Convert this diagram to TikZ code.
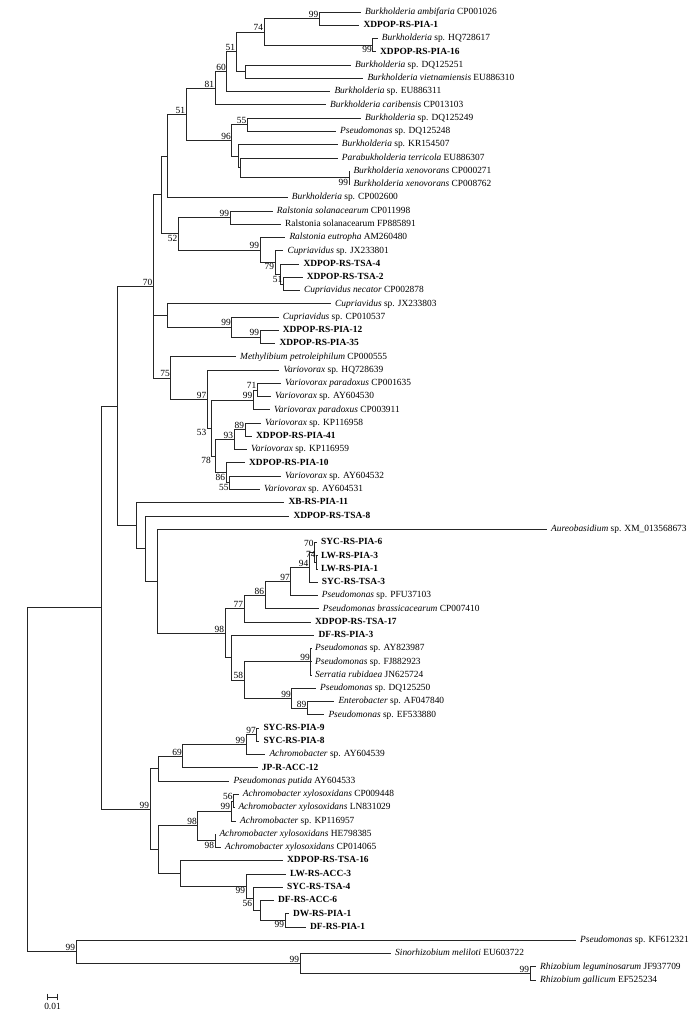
\documentclass[tikz,border=0pt]{standalone}
\usepackage{fontspec}
\setmainfont{Liberation Serif}
\begin{document}
\begin{tikzpicture}[x=1pt,y=-1pt,font=\fontsize{9.4}{11}\selectfont,
    br/.style={line width=0.7pt,black!85},
    leaf/.style={anchor=west,inner xsep=4pt,inner ysep=0pt,text height=6.5pt,text depth=1.9pt},
    strain/.style={leaf,font=\fontsize{9.4}{11}\selectfont\bfseries},
    bsup/.style={anchor=south east,inner sep=0.8pt,text height=6.3pt,text depth=0pt},
    bsdn/.style={anchor=north east,inner sep=0.8pt,text height=6.3pt,text depth=0pt}]
    \useasboundingbox (0,0) rectangle (699,1016);

    \node[leaf] (L1) at (361,12.0) {\textit{Burkholderia ambifaria} CP001026};
    \node[strain] (L2) at (359.3,25.3) {XDPOP-RS-PIA-1};
    \node[leaf] (L3) at (377.7,38.5) {\textit{Burkholderia} sp. HQ728617};
    \node[strain] (L4) at (376,51.8) {XDPOP-RS-PIA-16};
    \node[leaf] (L5) at (351,65.0) {\textit{Burkholderia} sp. DQ125251};
    \node[leaf] (L6) at (363.3,78.3) {\textit{Burkholderia vietnamiensis} EU886310};
    \node[leaf] (L7) at (330.3,91.6) {\textit{Burkholderia} sp. EU886311};
    \node[leaf] (L8) at (326,104.8) {\textit{Burkholderia caribensis} CP013103};
    \node[leaf] (L9) at (361,118.1) {\textit{Burkholderia} sp. DQ125249};
    \node[leaf] (L10) at (336,131.3) {\textit{Pseudomonas} sp. DQ125248};
    \node[leaf] (L11) at (337.7,144.6) {\textit{Burkholderia} sp. KR154507};
    \node[leaf] (L12) at (337.7,157.9) {\textit{Parabukholderia terricola} EU886307};
    \node[leaf] (L13) at (349.3,171.1) {\textit{Burkholderia xenovorans} CP000271};
    \node[leaf] (L14) at (349.3,184.4) {\textit{Burkholderia xenovorans} CP008762};
    \node[leaf] (L15) at (287.7,197.6) {\textit{Burkholderia} sp. CP002600};
    \node[leaf] (L16) at (272.7,210.9) {\textit{Ralstonia solanacearum} CP011998};
    \node[leaf] (L17) at (281,224.2) {Ralstonia solanacearum FP885891};
    \node[leaf] (L18) at (285.3,237.4) {\textit{Ralstonia eutropha} AM260480};
    \node[leaf] (L19) at (283.3,250.7) {\textit{Cupriavidus} sp. JX233801};
    \node[strain] (L20) at (299.3,263.9) {XDPOP-RS-TSA-4};
    \node[strain] (L21) at (302.7,277.2) {XDPOP-RS-TSA-2};
    \node[leaf] (L22) at (300,290.5) {\textit{Cupriavidus necator} CP002878};
    \node[leaf] (L23) at (331,303.7) {\textit{Cupriavidus} sp. JX233803};
    \node[leaf] (L24) at (278.7,317.0) {\textit{Cupriavidus} sp. CP010537};
    \node[strain] (L25) at (278.7,330.2) {XDPOP-RS-PIA-12};
    \node[strain] (L26) at (275.3,343.5) {XDPOP-RS-PIA-35};
    \node[leaf] (L27) at (236,356.8) {\textit{Methylibium petroleiphilum} CP000555};
    \node[leaf] (L28) at (279.3,370.0) {\textit{Variovorax} sp. HQ728639};
    \node[leaf] (L29) at (281,383.3) {\textit{Variovorax paradoxus} CP001635};
    \node[leaf] (L30) at (271,396.5) {\textit{Variovorax} sp. AY604530};
    \node[leaf] (L31) at (270,409.8) {\textit{Variovorax paradoxus} CP003911};
    \node[leaf] (L32) at (261,423.1) {\textit{Variovorax} sp. KP116958};
    \node[strain] (L33) at (252,436.3) {XDPOP-RS-PIA-41};
    \node[leaf] (L34) at (247,449.6) {\textit{Variovorax} sp. KP116959};
    \node[strain] (L35) at (245,462.8) {XDPOP-RS-PIA-10};
    \node[leaf] (L36) at (281,476.1) {\textit{Variovorax} sp. AY604532};
    \node[leaf] (L37) at (260,489.4) {\textit{Variovorax} sp. AY604531};
    \node[strain] (L38) at (284.3,502.6) {XB-RS-PIA-11};
    \node[strain] (L39) at (289.3,515.9) {XDPOP-RS-TSA-8};
    \node[leaf] (L40) at (547,529.1) {\textit{Aureobasidium} sp. XM\_013568673};
    \node[strain] (L41) at (317,542.4) {SYC-RS-PIA-6};
    \node[strain] (L42) at (317,555.7) {LW-RS-PIA-3};
    \node[strain] (L43) at (317,568.9) {LW-RS-PIA-1};
    \node[strain] (L44) at (317.7,582.2) {SYC-RS-TSA-3};
    \node[leaf] (L45) at (317.7,595.4) {\textit{Pseudomonas} sp. PFU37103};
    \node[leaf] (L46) at (318.7,608.7) {\textit{Pseudomonas brassicacearum} CP007410};
    \node[strain] (L47) at (311,622.0) {XDPOP-RS-TSA-17};
    \node[strain] (L48) at (314.3,635.2) {DF-RS-PIA-3};
    \node[leaf] (L49) at (311,648.5) {\textit{Pseudomonas} sp. AY823987};
    \node[leaf] (L50) at (311,661.7) {\textit{Pseudomonas} sp. FJ882923};
    \node[leaf] (L51) at (311,675.0) {\textit{Serratia rubidaea} JN625724};
    \node[leaf] (L52) at (316,688.3) {\textit{Pseudomonas} sp. DQ125250};
    \node[leaf] (L53) at (334.3,701.5) {\textit{Enterobacter} sp. AF047840};
    \node[leaf] (L54) at (324.3,714.8) {\textit{Pseudomonas} sp. EF533880};
    \node[strain] (L55) at (259.3,728.0) {SYC-RS-PIA-9};
    \node[strain] (L56) at (259.3,741.3) {SYC-RS-PIA-8};
    \node[leaf] (L57) at (265.3,754.6) {\textit{Achromobacter} sp. AY604539};
    \node[strain] (L58) at (257.7,767.8) {JP-R-ACC-12};
    \node[leaf] (L59) at (229.3,781.1) {\textit{Pseudomonas putida} AY604533};
    \node[leaf] (L60) at (238.7,794.3) {\textit{Achromobacter xylosoxidans} CP009448};
    \node[leaf] (L61) at (234.3,807.6) {\textit{Achromobacter xylosoxidans} LN831029};
    \node[leaf] (L62) at (236,820.9) {\textit{Achromobacter} sp. KP116957};
    \node[leaf] (L63) at (215.3,834.1) {\textit{Achromobacter xylosoxidans} HE798385};
    \node[leaf] (L64) at (221,847.4) {\textit{Achromobacter xylosoxidans} CP014065};
    \node[strain] (L65) at (283,860.6) {XDPOP-RS-TSA-16};
    \node[strain] (L66) at (286,873.9) {LW-RS-ACC-3};
    \node[strain] (L67) at (283,887.2) {SYC-RS-TSA-4};
    \node[strain] (L68) at (274,900.4) {DF-RS-ACC-6};
    \node[strain] (L69) at (289,913.7) {DW-RS-PIA-1};
    \node[strain] (L70) at (306,926.9) {DF-RS-PIA-1};
    \node[leaf] (L71) at (576,940.2) {\textit{Pseudomonas} sp. KF612321};
    \node[leaf] (L72) at (391,953.5) {\textit{Sinorhizobium meliloti} EU603722};
    \node[leaf] (L73) at (536,966.7) {\textit{Rhizobium leguminosarum} JF937709};
    \node[leaf] (L74) at (536,980.0) {\textit{Rhizobium gallicum} EF525234};

    \coordinate (bA) at (319.3,18.65);
    \coordinate (bB) at (372.7,45.15);
    \coordinate (bC) at (264,31.9);
    \coordinate (bD) at (245,71.65);
    \coordinate (bE) at (236,51.8);
    \coordinate (bF) at (226.7,71.7);
    \coordinate (bG) at (215,88.25);
    \coordinate (bH) at (247.3,124.7);
    \coordinate (bI) at (349,177.75);
    \coordinate (bJ) at (240,167.8);
    \coordinate (bK) at (238.3,156.2);
    \coordinate (bL) at (231.7,140.45);
    \coordinate (bM) at (186,114.35);
    \coordinate (bN) at (167.3,155.98);
    \coordinate (rA) at (230,217.55);
    \coordinate (rB) at (283.3,283.85);
    \coordinate (rC) at (280.7,273.9);
    \coordinate (rD) at (275,262.3);
    \coordinate (rE) at (260,249.85);
    \coordinate (rF) at (178.3,233.7);
    \coordinate (rG) at (161,194.84);
    \coordinate (cA) at (260,336.85);
    \coordinate (cB) at (231.7,326.9);
    \coordinate (cC) at (167.3,315.3);
    \coordinate (gA) at (153.3,286.37);
    \coordinate (vA) at (257.3,389.9);
    \coordinate (vB) at (253.3,399.85);
    \coordinate (vC) at (245,429.7);
    \coordinate (vD) at (234,439.65);
    \coordinate (vE) at (229.5,482.75);
    \coordinate (vF) at (226,472.78);
    \coordinate (vG) at (215,456.2);
    \coordinate (vH) at (211.7,428.03);
    \coordinate (vI) at (207.3,399.0);
    \coordinate (vJ) at (170.7,377.9);
    \coordinate (pA) at (316.5,562.3);
    \coordinate (pB) at (314.5,552.35);
    \coordinate (pC) at (309.3,567.3);
    \coordinate (pD) at (290.7,581.35);
    \coordinate (pE) at (265,595.0);
    \coordinate (pF) at (244,608.5);
    \coordinate (pG) at (310.7,661.75);
    \coordinate (pH) at (307.3,708.15);
    \coordinate (pI) at (291.7,698.2);
    \coordinate (pJ) at (244,679.98);
    \coordinate (pK) at (231.7,657.6);
    \coordinate (pL) at (225,633.05);
    \coordinate (aM) at (157.3,581.1);
    \coordinate (aN) at (145,548.5);
    \coordinate (aO) at (136,525.55);
    \coordinate (aP) at (117.3,405.96);
    \coordinate (kA) at (256.7,734.65);
    \coordinate (kB) at (246,744.6);
    \coordinate (kC) at (182.7,756.2);
    \coordinate (kD) at (158.3,768.65);
    \coordinate (kE) at (233.5,800.95);
    \coordinate (kF) at (231,810.9);
    \coordinate (kG) at (215,840.75);
    \coordinate (kH) at (197.7,825.8);
    \coordinate (kI) at (285,920.3);
    \coordinate (kJ) at (260,910.35);
    \coordinate (kK) at (253,898.8);
    \coordinate (kL) at (246,886.35);
    \coordinate (kM) at (180,873.5);
    \coordinate (kN) at (158.3,849.65);
    \coordinate (kO) at (150,809.15);
    \coordinate (inner) at (101.7,607.56);
    \coordinate (oA) at (530,973.35);
    \coordinate (oB) at (300,963.4);
    \coordinate (oC) at (76,951.8);
    \coordinate (root) at (27.6,779.68);

    \draw[br] (bA) |- (L1) (bA) |- (L2) (bB) |- (L3) (bB) |- (L4)
        (bC) |- (bA) (bC) |- (bB) (bD) |- (L5) (bD) |- (L6)
        (bE) |- (bC) (bE) |- (bD) (bF) |- (bE) (bF) |- (L7)
        (bG) |- (bF) (bG) |- (L8) (bH) |- (L9) (bH) |- (L10)
        (bI) |- (L13) (bI) |- (L14) (bJ) |- (L12) (bJ) |- (bI)
        (bK) |- (L11) (bK) |- (bJ) (bL) |- (bH) (bL) |- (bK)
        (bM) |- (bG) (bM) |- (bL) (bN) |- (bM) (bN) |- (L15);
    \draw[br] (rA) |- (L16) (rA) |- (L17) (rB) |- (L21) (rB) |- (L22)
        (rC) |- (L20) (rC) |- (rB) (rD) |- (L19) (rD) |- (rC)
        (rE) |- (L18) (rE) |- (rD) (rF) |- (rA) (rF) |- (rE)
        (rG) |- (bN) (rG) |- (rF)
        (cA) |- (L25) (cA) |- (L26) (cB) |- (L24) (cB) |- (cA)
        (cC) |- (L23) (cC) |- (cB);
    \draw[br] (vA) |- (L29) (vA) |- (L30) (vB) |- (vA) (vB) |- (L31)
        (vC) |- (L32) (vC) |- (L33) (vD) |- (vC) (vD) |- (L34)
        (vE) |- (L36) (vE) |- (L37) (vF) |- (L35) (vF) |- (vE)
        (vG) |- (vD) (vG) |- (vF) (vH) |- (vB) (vH) |- (vG)
        (vI) |- (L28) (vI) |- (vH) (vJ) |- (L27) (vJ) |- (vI)
        (gA) |- (rG) (gA) |- (cC) (gA) |- (vJ);
    \draw[br] (pA) |- (L42) (pA) |- (L43) (pB) |- (L41) (pB) |- (pA)
        (pC) |- (pB) (pC) |- (L44) (pD) |- (pC) (pD) |- (L45)
        (pE) |- (pD) (pE) |- (L46) (pF) |- (pE) (pF) |- (L47)
        (pG) |- (L49) (pG) |- (L50) (pG) |- (L51)
        (pH) |- (L53) (pH) |- (L54) (pI) |- (L52) (pI) |- (pH)
        (pJ) |- (pG) (pJ) |- (pI) (pK) |- (L48) (pK) |- (pJ)
        (pL) |- (pF) (pL) |- (pK) (aM) |- (L40) (aM) |- (pL)
        (aN) |- (L39) (aN) |- (aM) (aO) |- (L38) (aO) |- (aN)
        (aP) |- (gA) (aP) |- (aO);
    \draw[br] (kA) |- (L55) (kA) |- (L56) (kB) |- (kA) (kB) |- (L57)
        (kC) |- (kB) (kC) |- (L58) (kD) |- (kC) (kD) |- (L59)
        (kE) |- (L60) (kE) |- (L61) (kF) |- (kE) (kF) |- (L62)
        (kG) |- (L63) (kG) |- (L64) (kH) |- (kF) (kH) |- (kG)
        (kI) |- (L69) (kI) |- (L70) (kJ) |- (L68) (kJ) |- (kI)
        (kK) |- (L67) (kK) |- (kJ) (kL) |- (L66) (kL) |- (kK)
        (kM) |- (L65) (kM) |- (kL) (kN) |- (kH) (kN) |- (kM)
        (kO) |- (kD) (kO) |- (kN) (inner) |- (aP) (inner) |- (kO);
    \draw[br] (oA) |- (L73) (oA) |- (L74) (oB) |- (L72) (oB) |- (oA)
        (oC) |- (L71) (oC) |- (oB) (root) |- (inner) (root) |- (oC);

    \node[bsup] (tbA) at (bA) {99};
    \node[bsdn] (tbB) at (bB) {99};
    \node[bsup] (tbC) at (bC) {74};
    \node[bsup] (tbE) at (bE) {51};
    \node[bsup] (tbF) at (bF) {60};
    \node[bsup] (tbG) at (bG) {81};
    \node[bsup] (tbH) at (bH) {55};
    \node[bsdn] (tbI) at (bI) {99};
    \node[bsup] (tbL) at (bL) {96};
    \node[bsup] (tbM) at (bM) {51};
    \node[bsup] (trA) at (rA) {99};
    \node[bsup] (trB) at (rB) {51};
    \node[bsdn] (trD) at (rD) {79};
    \node[bsup] (trE) at (rE) {99};
    \node[bsdn] (trF) at (rF) {52};
    \node[bsup] (tcA) at (cA) {99};
    \node[bsup] (tcB) at (cB) {99};
    \node[bsup] (tgA) at (gA) {70};
    \node[bsup] (tvA) at (vA) {71};
    \node[bsup] (tvB) at (vB) {99};
    \node[bsup] (tvC) at (vC) {89};
    \node[bsup] (tvD) at (vD) {93};
    \node[bsdn] (tvE) at (vE) {55};
    \node[bsdn] (tvF) at (vF) {86};
    \node[bsdn] (tvG) at (vH |- vG) {78};
    \node[bsdn] (tvH) at (vI |- vH) {53};
    \node[bsup] (tvI) at (vI) {97};
    \node[bsup] (tvJ) at (vJ) {75};
    \node[bsup,yshift=4pt] (tpA) at (pA) {74};
    \node[bsup,yshift=5pt] (tpB) at (pB) {70};
    \node[bsup] (tpC) at (pC) {94};
    \node[bsup] (tpD) at (pD) {97};
    \node[bsup] (tpE) at (pE) {86};
    \node[bsup] (tpF) at (pF) {77};
    \node[bsup] (tpG) at (pG) {99};
    \node[bsup] (tpH) at (pH) {89};
    \node[bsup] (tpI) at (pI) {99};
    \node[bsup] (tpJ) at (pJ) {58};
    \node[bsup] (tpL) at (pL) {98};
    \node[bsup] (tkA) at (kA) {97};
    \node[bsup] (tkB) at (kB) {99};
    \node[bsup] (tkC) at (kC) {69};
    \node[bsup] (tkE) at (kE) {56};
    \node[bsup] (tkF) at (kF) {99};
    \node[bsdn] (tkG) at (kG) {98};
    \node[bsup] (tkH) at (kH) {98};
    \node[bsdn] (tkI) at (kI) {99};
    \node[bsdn] (tkK) at (kK) {56};
    \node[bsdn] (tkL) at (kL) {99};
    \node[bsup] (tkO) at (kO) {99};
    \node[bsup] (toA) at (oA) {99};
    \node[bsup] (toB) at (oB) {99};
    \node[bsup] (toC) at (oC) {99};

    \coordinate (sbL) at (47,997);
    \coordinate (sbR) at (57.5,997);
    \draw[br,|-|] (sbL) -- (sbR);
    \node[anchor=north,inner sep=1pt] (sbT) at (52.5,1002) {0.01};
\end{tikzpicture}
\end{document}
